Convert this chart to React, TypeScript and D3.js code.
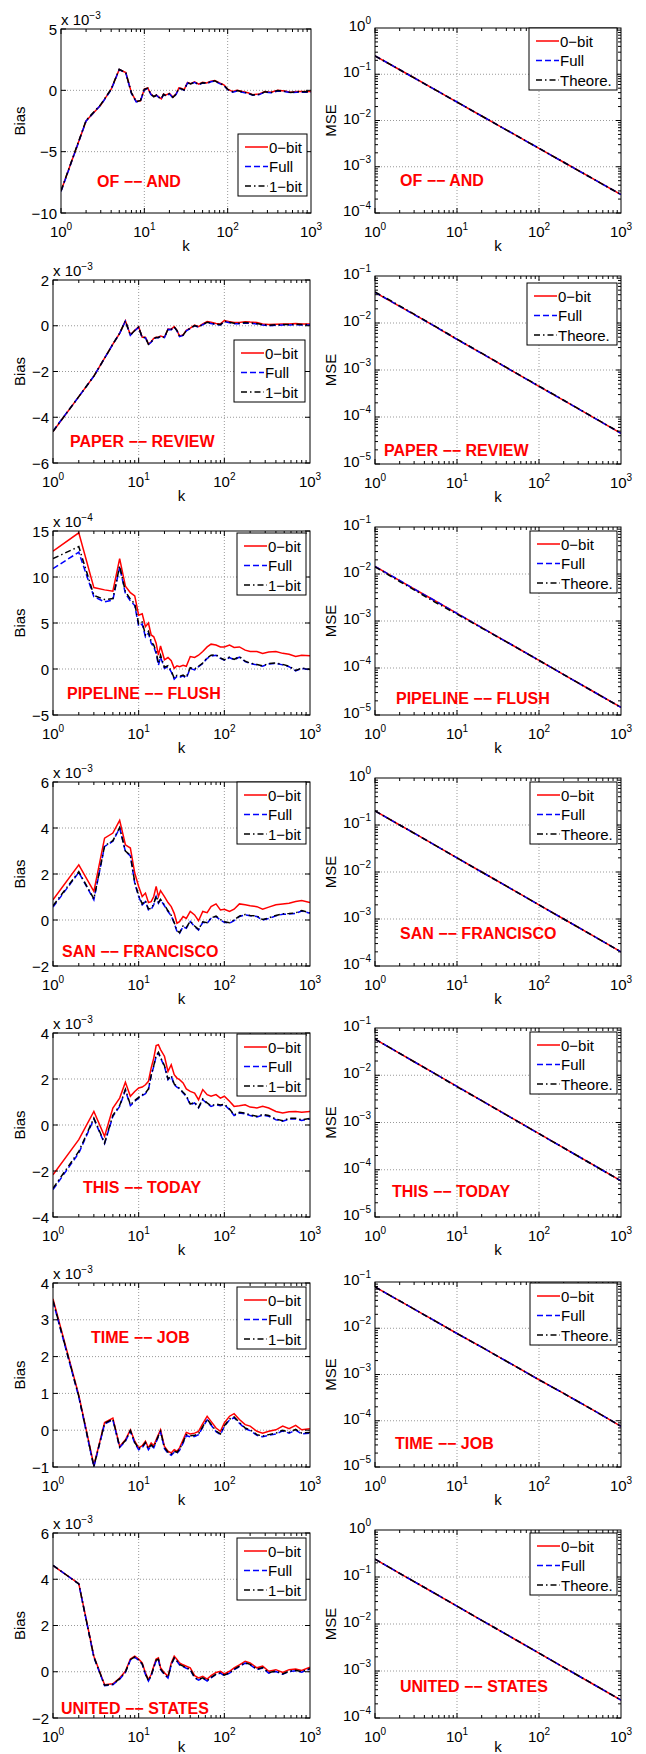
import React, { useRef, useEffect } from 'react';
import * as d3 from 'd3';

// shared k grid for the bias curves
const kGrid = [
  1, 2, 3, 4, 5, 6, 7, 8, 9, 10,
  11, 12, 13, 14, 15, 16, 17, 18, 20, 22,
  24, 26, 28, 30, 33, 36, 40, 45, 50, 56,
  63, 70, 80, 90, 100, 115, 130, 150, 175, 200,
  240, 280, 330, 400, 480, 570, 680, 800, 1000,
];

// OF -- AND (x 1e-3)
const biasOfAnd0 = [
  -8.2, -2.5, -1.2, 0.1, 1.7, 1.45, -0.2, -0.9, -0.85, 0.1,
  0.2, -0.3, -0.5, -0.4, -0.55, -0.7, -0.3, -0.4, -0.25, -0.55,
  -0.3, 0.2, 0.15, 0.05, 0.65, 0.55, 0.7, 0.5, 0.65, 0.6,
  0.75, 0.8, 0.6, 0.45, 0.1, -0.1, 0.0, -0.1, -0.2, -0.35,
  -0.3, -0.1, -0.15, 0.0, -0.05, -0.15, -0.1, -0.1, -0.1,
];
const biasOfAndFull = [
  -8.25, -2.5, -1.2, 0.05, 1.7, 1.4, -0.25, -0.95, -0.85, 0.05,
  0.15, -0.35, -0.55, -0.4, -0.6, -0.7, -0.35, -0.45, -0.3, -0.6,
  -0.35, 0.15, 0.1, 0.0, 0.6, 0.5, 0.65, 0.45, 0.6, 0.55,
  0.7, 0.75, 0.55, 0.4, 0.05, -0.15, -0.05, -0.15, -0.25, -0.4,
  -0.35, -0.15, -0.2, -0.05, -0.1, -0.2, -0.15, -0.15, -0.15,
];
const biasOfAnd1 = [
  -8.2, -2.45, -1.15, 0.1, 1.72, 1.42, -0.2, -0.92, -0.82, 0.08,
  0.18, -0.32, -0.52, -0.38, -0.58, -0.68, -0.32, -0.42, -0.28, -0.58,
  -0.32, 0.18, 0.12, 0.02, 0.62, 0.52, 0.68, 0.48, 0.62, 0.58,
  0.72, 0.78, 0.58, 0.42, 0.08, -0.12, -0.02, -0.12, -0.22, -0.38,
  -0.32, -0.12, -0.18, -0.02, -0.08, -0.18, -0.12, -0.12, -0.12,
];

// PAPER -- REVIEW (x 1e-3)
const biasPaper0 = [
  -4.62, -3.1, -2.2, -1.42, -0.8, -0.33, 0.22, -0.4, -0.2, -0.05,
  -0.5, -0.5, -0.8, -0.7, -0.55, -0.5, -0.5, -0.45, -0.5, -0.14,
  -0.15, -0.04, -0.2, -0.45, -0.4, -0.2, -0.1, 0.03, -0.04, 0.08,
  0.18, 0.15, 0.1, 0.08, 0.23, 0.18, 0.14, 0.14, 0.18, 0.16,
  0.14, 0.08, 0.05, 0.07, 0.08, 0.08, 0.1, 0.08, 0.08,
];
const biasPaperFull = [
  -4.6, -3.1, -2.2, -1.42, -0.8, -0.33, 0.2, -0.42, -0.22, -0.07,
  -0.52, -0.52, -0.82, -0.72, -0.57, -0.52, -0.52, -0.47, -0.52, -0.16,
  -0.17, -0.06, -0.22, -0.47, -0.42, -0.22, -0.12, 0.0, -0.07, 0.05,
  0.14, 0.1, 0.05, 0.03, 0.18, 0.13, 0.09, 0.09, 0.12, 0.1,
  0.08, 0.03, 0.0, 0.02, 0.03, 0.03, 0.05, 0.03, 0.03,
];
const biasPaper1 = [
  -4.62, -3.1, -2.2, -1.42, -0.8, -0.33, 0.21, -0.41, -0.21, -0.06,
  -0.51, -0.51, -0.81, -0.71, -0.56, -0.51, -0.51, -0.46, -0.51, -0.15,
  -0.16, -0.05, -0.21, -0.46, -0.41, -0.21, -0.11, 0.01, -0.05, 0.06,
  0.15, 0.12, 0.07, 0.05, 0.2, 0.15, 0.11, 0.11, 0.14, 0.12,
  0.1, 0.05, 0.02, 0.04, 0.05, 0.05, 0.07, 0.05, 0.05,
];

// PIPELINE -- FLUSH (x 1e-4)
const biasPipeline0 = [
  12.8, 14.8, 8.85, 8.6, 8.45, 12.0, 9.0, 8.3, 7.95, 5.85,
  6.0, 4.6, 5.0, 3.7, 3.5, 2.8, 1.5, 2.5, 1.0, 1.25,
  0.9, 0.07, 0.35, 0.25, 0.4, 0.3, 1.35, 1.25, 1.5, 1.9,
  2.4, 2.7, 2.6, 2.4, 2.4, 2.6, 2.35, 2.4, 2.05, 1.9,
  1.9, 1.7, 1.85, 1.9, 1.7, 1.6, 1.35, 1.5, 1.45,
];
const biasPipelineFull = [
  10.9, 12.7, 7.85, 7.3, 7.5, 11.1, 8.2, 7.4, 6.9, 4.65,
  4.9, 3.5, 3.9, 2.8, 2.4, 1.7, 0.4, 1.3, 0.07, 0.25,
  -0.3, -1.1, -0.8, -0.9, -0.75, -1.0, 0.07, -0.1, 0.25, 0.6,
  1.15, 1.4, 1.5, 1.15, 0.95, 1.25, 1.0, 1.3, 0.8, 0.6,
  0.45, 0.3, 0.55, 0.6, 0.45, 0.25, -0.2, 0.07, -0.1,
];
const biasPipeline1 = [
  12.0, 13.3, 8.0, 7.55, 7.65, 11.2, 8.4, 7.6, 7.1, 4.9,
  5.1, 3.7, 4.1, 3.0, 2.6, 1.9, 0.6, 1.5, 0.2, 0.35,
  -0.2, -1.0, -0.7, -0.8, -0.65, -0.9, 0.15, 0.0, 0.3, 0.65,
  1.2, 1.5, 1.55, 1.2, 1.0, 1.3, 1.05, 1.35, 0.85, 0.65,
  0.5, 0.35, 0.6, 0.65, 0.5, 0.3, -0.15, 0.1, -0.05,
];

// SAN -- FRANCISCO (x 1e-3)
const biasSan0 = [
  0.88, 2.4, 1.24, 3.56, 3.78, 4.33, 3.27, 3.13, 2.04, 1.46,
  1.02, 1.17, 0.76, 0.8, 1.02, 1.46, 1.02, 1.28, 1.02, 0.76,
  0.58, 0.29, -0.14, -0.07, 0.15, 0.07, 0.37, 0.22, -0.03, 0.37,
  0.32, 0.58, 0.7, 0.44, 0.47, 0.37, 0.47, 0.7, 0.66, 0.62,
  0.58, 0.47, 0.56, 0.66, 0.7, 0.73, 0.8, 0.85, 0.76,
];
const biasSanFull = [
  0.56, 2.07, 0.88, 3.2, 3.42, 4.0, 2.98, 2.79, 1.6, 1.02,
  0.66, 0.8, 0.44, 0.47, 0.66, 1.02, 0.73, 0.88, 0.62, 0.37,
  0.18, -0.14, -0.5, -0.58, -0.29, -0.36, -0.07, -0.29, -0.44, -0.1,
  -0.14, 0.07, 0.15, 0.0, -0.1, -0.14, -0.03, 0.15, 0.22, 0.18,
  0.15, 0.0, 0.07, 0.18, 0.25, 0.26, 0.29, 0.39, 0.29,
];
const biasSan1 = [
  0.62, 2.1, 0.92, 3.22, 3.45, 4.02, 3.0, 2.82, 1.64, 1.06,
  0.7, 0.84, 0.48, 0.5, 0.7, 1.05, 0.76, 0.9, 0.65, 0.4,
  0.2, -0.11, -0.47, -0.55, -0.26, -0.33, -0.05, -0.26, -0.41, -0.08,
  -0.12, 0.09, 0.17, 0.02, -0.08, -0.12, 0.0, 0.17, 0.24, 0.2,
  0.17, 0.02, 0.09, 0.2, 0.27, 0.28, 0.31, 0.41, 0.31,
];

// THIS -- TODAY (x 1e-3)
const biasThis0 = [
  -2.16, -0.64, 0.59, -0.49, 0.74, 1.17, 1.86, 1.25, 1.46, 1.61,
  1.65, 1.75, 1.9, 2.48, 2.91, 3.45, 3.49, 3.28, 2.99, 2.33,
  2.62, 2.19, 2.04, 1.97, 1.83, 1.57, 1.46, 1.39, 1.1, 1.54,
  1.32, 1.25, 1.32, 1.17, 1.25, 1.03, 0.81, 0.84, 0.88, 0.78,
  0.74, 0.81, 0.74, 0.59, 0.52, 0.58, 0.59, 0.55, 0.59,
];
const biasThisFull = [
  -2.81, -1.22, 0.26, -0.81, 0.38, 0.81, 1.51, 0.84, 1.03, 1.17,
  1.28, 1.36, 1.54, 2.14, 2.55, 2.99, 3.13, 2.91, 2.55, 1.97,
  2.12, 1.75, 1.65, 1.57, 1.39, 1.25, 0.88, 0.96, 0.74, 1.1,
  0.93, 0.81, 0.88, 0.84, 0.88, 0.67, 0.41, 0.52, 0.49, 0.41,
  0.35, 0.43, 0.38, 0.23, 0.16, 0.26, 0.26, 0.2, 0.26,
];
const biasThis1 = [
  -2.75, -1.15, 0.3, -0.78, 0.42, 0.85, 1.55, 0.88, 1.07, 1.2,
  1.31, 1.39, 1.57, 2.17, 2.58, 3.02, 3.16, 2.94, 2.58, 2.0,
  2.15, 1.78, 1.68, 1.6, 1.42, 1.28, 0.91, 0.99, 0.77, 1.13,
  0.96, 0.84, 0.91, 0.87, 0.91, 0.7, 0.44, 0.55, 0.52, 0.44,
  0.38, 0.46, 0.41, 0.26, 0.19, 0.29, 0.29, 0.23, 0.29,
];

// TIME -- JOB (x 1e-3)
const biasTime0 = [
  3.57, 0.95, -0.96, 0.21, 0.33, -0.44, -0.26, 0.01, -0.3, -0.48,
  -0.42, -0.3, -0.48, -0.35, -0.42, -0.26, -0.12, 0.01, -0.44, -0.57,
  -0.62, -0.53, -0.57, -0.48, -0.26, -0.06, -0.1, -0.08, -0.03, 0.18,
  0.38, 0.24, 0.06, -0.03, 0.2, 0.38, 0.45, 0.29, 0.15, 0.11,
  -0.03, -0.08, -0.03, 0.01, 0.11, 0.04, 0.13, 0.01, 0.04,
];
const biasTimeFull = [
  3.5, 0.9, -1.0, 0.17, 0.28, -0.47, -0.3, -0.03, -0.35, -0.53,
  -0.48, -0.35, -0.53, -0.42, -0.48, -0.32, -0.18, -0.05, -0.5, -0.63,
  -0.68, -0.6, -0.63, -0.55, -0.35, -0.15, -0.18, -0.17, -0.12, 0.08,
  0.28, 0.14, -0.04, -0.12, 0.1, 0.28, 0.34, 0.19, 0.04, -0.01,
  -0.14, -0.18, -0.14, -0.1, -0.02, -0.08, 0.0, -0.1, -0.08,
];
const biasTime1 = [
  3.52, 0.92, -0.98, 0.19, 0.3, -0.45, -0.28, -0.01, -0.33, -0.5,
  -0.45, -0.33, -0.5, -0.4, -0.46, -0.3, -0.15, -0.03, -0.47, -0.6,
  -0.65, -0.57, -0.6, -0.52, -0.32, -0.12, -0.15, -0.14, -0.1, 0.1,
  0.3, 0.16, -0.02, -0.1, 0.12, 0.3, 0.36, 0.21, 0.06, 0.01,
  -0.12, -0.16, -0.12, -0.08, 0.0, -0.06, 0.02, -0.08, -0.06,
];

// UNITED -- STATES (x 1e-3)
const biasUnited0 = [
  4.59, 3.81, 0.67, -0.56, -0.52, -0.27, 0.02, 0.55, 0.67, 0.55,
  0.38, -0.05, -0.34, -0.12, 0.24, 0.55, 0.6, 0.17, -0.05, -0.2,
  0.38, 0.67, 0.53, 0.38, 0.3, 0.24, 0.17, -0.17, -0.27, -0.2,
  -0.32, -0.17, -0.03, 0.02, -0.09, 0.02, 0.17, 0.3, 0.45, 0.38,
  0.17, 0.24, 0.02, 0.09, -0.03, 0.09, 0.12, 0.06, 0.2,
];
const biasUnitedFull = [
  4.6, 3.8, 0.62, -0.6, -0.56, -0.32, -0.03, 0.5, 0.62, 0.5,
  0.32, -0.12, -0.4, -0.18, 0.18, 0.48, 0.52, 0.1, -0.12, -0.27,
  0.3, 0.58, 0.45, 0.3, 0.22, 0.15, 0.08, -0.26, -0.36, -0.28,
  -0.4, -0.26, -0.12, -0.06, -0.17, -0.06, 0.09, 0.22, 0.37, 0.3,
  0.09, 0.16, -0.06, 0.01, -0.11, 0.01, 0.04, -0.02, 0.12,
];
const biasUnited1 = [
  4.6, 3.8, 0.64, -0.58, -0.54, -0.3, -0.01, 0.52, 0.64, 0.52,
  0.34, -0.1, -0.38, -0.16, 0.2, 0.5, 0.54, 0.12, -0.1, -0.25,
  0.32, 0.6, 0.47, 0.32, 0.24, 0.17, 0.1, -0.24, -0.34, -0.26,
  -0.38, -0.24, -0.1, -0.04, -0.15, -0.04, 0.11, 0.24, 0.39, 0.32,
  0.11, 0.18, -0.04, 0.03, -0.09, 0.03, 0.06, 0.0, 0.14,
];

// MSE curves
const mseK = [1, 2, 3, 5, 10, 20, 50, 100, 200, 500, 1000];
const mseOfAnd0 = [0.25, 0.125, 0.084, 0.05, 0.025, 0.0125, 0.005, 0.0025, 0.00125, 0.0005, 0.00025];
const mseOfAndFull = [0.25, 0.126, 0.083, 0.05, 0.0251, 0.0125, 0.005, 0.0025, 0.00125, 0.0005, 0.00025];
const mseOfAndTh = [0.25, 0.125, 0.0833, 0.05, 0.025, 0.0125, 0.005, 0.0025, 0.00125, 0.0005, 0.00025];
const msePaper0 = [0.045, 0.0225, 0.0152, 0.0091, 0.0045, 0.00226, 0.0009, 0.00045, 0.000225, 0.00009, 0.000045];
const msePaperFull = [0.045, 0.0226, 0.0151, 0.0091, 0.0045, 0.00225, 0.0009, 0.00045, 0.000225, 0.00009, 0.000045];
const msePaperTh = [0.046, 0.0232, 0.0155, 0.0092, 0.00455, 0.00228, 0.00091, 0.000455, 0.000227, 0.000091, 0.0000455];
const msePipeline0 = [0.0145, 0.0072, 0.0048, 0.0029, 0.00145, 0.00072, 0.00029, 0.000145, 0.0000725, 0.000029, 0.0000145];
const msePipelineFull = [0.0145, 0.0073, 0.0048, 0.0029, 0.00145, 0.00072, 0.00029, 0.000145, 0.0000725, 0.000029, 0.0000145];
const msePipelineTh = [0.0142, 0.0069, 0.0046, 0.0027, 0.0014, 0.00071, 0.00029, 0.000145, 0.0000725, 0.000029, 0.0000145];
const mseSan0 = [0.2, 0.1, 0.067, 0.04, 0.02, 0.01, 0.004, 0.002, 0.001, 0.0004, 0.0002];
const mseSanFull = [0.2, 0.1, 0.067, 0.04, 0.02, 0.01, 0.004, 0.002, 0.001, 0.0004, 0.0002];
const mseSanTh = [0.2, 0.1, 0.0667, 0.04, 0.02, 0.01, 0.004, 0.002, 0.001, 0.0004, 0.0002];
const mseThis0 = [0.058, 0.029, 0.0193, 0.0116, 0.0058, 0.0029, 0.00116, 0.00058, 0.00029, 0.000116, 0.000058];
const mseThisFull = [0.058, 0.029, 0.0193, 0.0116, 0.0058, 0.0029, 0.00116, 0.00058, 0.00029, 0.000116, 0.000058];
const mseThisTh = [0.058, 0.029, 0.0193, 0.0116, 0.0057, 0.0029, 0.00116, 0.00058, 0.00029, 0.000116, 0.000058];
const mseTime0 = [0.078, 0.039, 0.026, 0.0155, 0.0077, 0.0039, 0.00155, 0.00077, 0.00039, 0.000155, 0.000076];
const mseTimeFull = [0.078, 0.039, 0.026, 0.0155, 0.0077, 0.0039, 0.00155, 0.00077, 0.00039, 0.000155, 0.000076];
const mseTimeTh = [0.078, 0.039, 0.026, 0.0155, 0.0077, 0.0039, 0.00155, 0.00077, 0.00039, 0.000155, 0.000076];
const mseUnited0 = [0.24, 0.12, 0.08, 0.048, 0.024, 0.012, 0.0048, 0.0024, 0.0012, 0.00048, 0.00024];
const mseUnitedFull = [0.24, 0.12, 0.08, 0.048, 0.024, 0.012, 0.0048, 0.0024, 0.0012, 0.00048, 0.00024];
const mseUnitedTh = [0.24, 0.12, 0.08, 0.048, 0.024, 0.012, 0.0048, 0.0024, 0.0012, 0.00048, 0.00024];

const pairNames = ['OF −− AND', 'PAPER −− REVIEW', 'PIPELINE −− FLUSH', 'SAN −− FRANCISCO', 'THIS −− TODAY', 'TIME −− JOB', 'UNITED −− STATES'];
const biasDomains = [[-10, 5], [-6, 2], [-5, 15], [-2, 6], [-4, 4], [-1, 4], [-2, 6]];
const biasTickStep = [5, 2, 5, 2, 2, 1, 2];
const biasExponents = ['−3', '−3', '−4', '−3', '−3', '−3', '−3'];
const mseDomains = [[1e-4, 1], [1e-5, 1e-1], [1e-5, 1e-1], [1e-4, 1], [1e-5, 1e-1], [1e-5, 1e-1], [1e-4, 1]];
const biasLegend = ['0−bit', 'Full', '1−bit'];
const mseLegend = ['0−bit', 'Full', 'Theore.'];

const biasSeries = [
  [biasOfAnd0, biasOfAndFull, biasOfAnd1],
  [biasPaper0, biasPaperFull, biasPaper1],
  [biasPipeline0, biasPipelineFull, biasPipeline1],
  [biasSan0, biasSanFull, biasSan1],
  [biasThis0, biasThisFull, biasThis1],
  [biasTime0, biasTimeFull, biasTime1],
  [biasUnited0, biasUnitedFull, biasUnited1],
];
const mseSeries = [
  [mseOfAnd0, mseOfAndFull, mseOfAndTh],
  [msePaper0, msePaperFull, msePaperTh],
  [msePipeline0, msePipelineFull, msePipelineTh],
  [mseSan0, mseSanFull, mseSanTh],
  [mseThis0, mseThisFull, mseThisTh],
  [mseTime0, mseTimeFull, mseTimeTh],
  [mseUnited0, mseUnitedFull, mseUnitedTh],
];

// layout (pixels): [x0, x1, y0, y1]
const leftBoxes = [[61, 311, 29, 213], [53, 310, 280, 463], [53, 310, 531, 715], [53, 310, 782, 966], [53, 310, 1033, 1217], [53, 310, 1283, 1467], [53, 310, 1533, 1718]];
const rightBoxes = [[375, 621, 28, 213], [375, 621, 276, 464], [375, 621, 527, 715], [375, 621, 778, 966], [375, 621, 1028, 1217], [375, 621, 1282, 1467], [375, 621, 1530, 1718]];
const leftLegendPos = [[238, 134, 69], [234, 340, 71], [237, 533, 69], [237, 782, 69], [237, 1034, 69], [237, 1287, 69], [237, 1538, 69]];
const rightLegendPos = [[529, 28, 88], [527, 283, 90], [530, 531, 87], [530, 782, 87], [530, 1032, 87], [530, 1283, 87], [530, 1533, 87]];
const leftNotePos = [[97, 187], [70, 447], [67, 699], [62, 957], [83, 1193], [91, 1343], [61, 1714]];
const rightNotePos = [[400, 186], [384, 456], [396, 704], [400, 939], [392, 1197], [395, 1449], [400, 1692]];

const FONT = '"Liberation Sans", Arial, Helvetica, sans-serif';
const lineStyles = [
  { color: '#ff0000', dash: null },
  { color: '#0000ff', dash: '6,3' },
  { color: '#000000', dash: '6,3,1.5,3' },
];

const powLabel = (sel, exp) => {
  sel.append('tspan').text('10');
  sel.append('tspan').attr('dy', -7).attr('font-size', 10).text(exp);
};

const supExp = (e) => (e < 0 ? '−' + Math.abs(e) : String(e));

function drawPanel(svg, cfg) {
  const [x0, x1, y0, y1] = cfg.box;
  const g = svg.append('g');
  const x = d3.scaleLog().domain([1, 1000]).range([x0, x1]);
  const y = cfg.yLog
    ? d3.scaleLog().domain(cfg.yDomain).range([y1, y0])
    : d3.scaleLinear().domain(cfg.yDomain).range([y1, y0]);

  g.append('rect').attr('x', x0).attr('y', y0).attr('width', x1 - x0).attr('height', y1 - y0).attr('fill', '#fff');

  // grid
  [10, 100].forEach((v) => {
    g.append('line').attr('x1', x(v)).attr('x2', x(v)).attr('y1', y0).attr('y2', y1)
      .attr('stroke', '#999').attr('stroke-dasharray', '1,2');
  });
  let yTicks: number[] = [];
  if (cfg.yLog) {
    const e0 = Math.round(Math.log10(cfg.yDomain[0]));
    const e1 = Math.round(Math.log10(cfg.yDomain[1]));
    for (let e = e0; e <= e1; e++) yTicks.push(Math.pow(10, e));
  } else {
    yTicks = d3.range(cfg.yDomain[0], cfg.yDomain[1] + 0.001, cfg.tickStep);
  }
  yTicks.slice(1, -1).forEach((v) => {
    g.append('line').attr('x1', x0).attr('x2', x1).attr('y1', y(v)).attr('y2', y(v))
      .attr('stroke', '#999').attr('stroke-dasharray', '1,2');
  });

  // curves
  const clipId = 'clip' + cfg.id;
  svg.append('clipPath').attr('id', clipId).append('rect')
    .attr('x', x0).attr('y', y0).attr('width', x1 - x0).attr('height', y1 - y0);
  const line = d3.line().x((d) => x(d[0])).y((d) => y(d[1]));
  cfg.series.forEach((vals, i) => {
    const pts = vals.map((v, j) => [cfg.ks[j], v]);
    const st = lineStyles[i];
    g.append('path').attr('d', line(pts)).attr('fill', 'none').attr('stroke', st.color)
      .attr('stroke-width', 1.5).attr('stroke-dasharray', st.dash)
      .attr('clip-path', `url(#${clipId})`);
  });

  // ticks, mirrored on all four sides
  const tick = (xa, ya, xb, yb) => g.append('line').attr('x1', xa).attr('y1', ya).attr('x2', xb).attr('y2', yb)
    .attr('stroke', '#000').attr('stroke-width', 1);
  for (let e = 0; e < 3; e++) {
    for (let m = 1; m < 10; m++) {
      const v = m * Math.pow(10, e);
      const len = m === 1 ? 5 : 3;
      tick(x(v), y1, x(v), y1 - len);
      tick(x(v), y0, x(v), y0 + len);
    }
  }
  if (cfg.yLog) {
    const e0 = Math.round(Math.log10(cfg.yDomain[0]));
    const e1 = Math.round(Math.log10(cfg.yDomain[1]));
    for (let e = e0; e < e1; e++) {
      for (let m = 1; m < 10; m++) {
        const v = m * Math.pow(10, e);
        const len = m === 1 ? 5 : 3;
        tick(x0, y(v), x0 + len, y(v));
        tick(x1, y(v), x1 - len, y(v));
      }
    }
  } else {
    yTicks.forEach((v) => {
      tick(x0, y(v), x0 + 5, y(v));
      tick(x1, y(v), x1 - 5, y(v));
    });
  }

  // frame
  g.append('rect').attr('x', x0).attr('y', y0).attr('width', x1 - x0).attr('height', y1 - y0)
    .attr('fill', 'none').attr('stroke', '#000').attr('stroke-width', 1);

  // x tick labels
  [0, 1, 2, 3].forEach((e) => {
    const t = g.append('text').attr('x', x(Math.pow(10, e))).attr('y', y1 + 24)
      .attr('text-anchor', 'middle').attr('font-family', FONT).attr('font-size', 15);
    powLabel(t, supExp(e));
  });
  // y tick labels
  yTicks.forEach((v) => {
    const t = g.append('text').attr('x', x0 - 4).attr('text-anchor', 'end')
      .attr('font-family', FONT).attr('font-size', 15);
    if (cfg.yLog) {
      t.attr('y', y(v) + 3);
      powLabel(t, supExp(Math.round(Math.log10(v))));
    } else {
      t.attr('y', y(v) + 5.5).text(v < 0 ? '−' + Math.abs(v) : String(v));
    }
  });
  if (cfg.exponent) {
    const t = g.append('text').attr('x', x0).attr('y', y0 - 4)
      .attr('font-family', FONT).attr('font-size', 15);
    t.append('tspan').text('x 10');
    t.append('tspan').attr('dy', -6).attr('font-size', 10).text(cfg.exponent);
  }

  // axis labels
  g.append('text').attr('x', (x0 + x1) / 2).attr('y', Math.min(y1 + 38, 1752)).attr('text-anchor', 'middle')
    .attr('font-family', FONT).attr('font-size', 15).text('k');
  g.append('text').attr('transform', `translate(${cfg.yLabelX},${(y0 + y1) / 2}) rotate(-90)`)
    .attr('text-anchor', 'middle').attr('font-family', FONT).attr('font-size', 15).text(cfg.yLabel);

  // annotation
  g.append('text').attr('x', cfg.note[0]).attr('y', cfg.note[1]).attr('fill', '#ff0000')
    .attr('font-family', FONT).attr('font-size', 16).attr('font-weight', 'bold').text(cfg.noteText);

  // legend
  const [lx, ly, lw] = cfg.legend;
  const lg = g.append('g');
  lg.append('rect').attr('x', lx).attr('y', ly).attr('width', lw).attr('height', 62)
    .attr('fill', '#fff').attr('stroke', '#000').attr('stroke-width', 1);
  cfg.legendLabels.forEach((lab, i) => {
    const cy = ly + 13 + i * 19.5;
    const st = lineStyles[i];
    lg.append('line').attr('x1', lx + 7).attr('x2', lx + 30).attr('y1', cy).attr('y2', cy)
      .attr('stroke', st.color).attr('stroke-width', 1.5).attr('stroke-dasharray', st.dash);
    lg.append('text').attr('x', lx + 31).attr('y', cy + 5.5).attr('font-family', FONT)
      .attr('font-size', 15).text(lab);
  });
}

const App = () => {
  const ref = useRef(null);

  useEffect(() => {
    if (!ref.current) return;
    const svg = d3.select(ref.current);
    svg.selectAll('*').remove();
    pairNames.forEach((name, i) => {
      drawPanel(svg, {
        id: 'b' + i,
        box: leftBoxes[i],
        yLog: false,
        yDomain: biasDomains[i],
        tickStep: biasTickStep[i],
        exponent: biasExponents[i],
        ks: kGrid,
        series: biasSeries[i],
        yLabel: 'Bias',
        yLabelX: 25,
        note: leftNotePos[i],
        noteText: name,
        legend: leftLegendPos[i],
        legendLabels: biasLegend,
      });
      drawPanel(svg, {
        id: 'm' + i,
        box: rightBoxes[i],
        yLog: true,
        yDomain: mseDomains[i],
        exponent: null,
        ks: mseK,
        series: mseSeries[i],
        yLabel: 'MSE',
        yLabelX: 336,
        note: rightNotePos[i],
        noteText: name,
        legend: rightLegendPos[i],
        legendLabels: mseLegend,
      });
    });
  }, []);

  return (
    <svg
      ref={ref}
      width={646}
      height={1754}
      style={{ position: 'absolute', left: 0, top: 0, background: '#fff' }}
    />
  );
};

export default App;
